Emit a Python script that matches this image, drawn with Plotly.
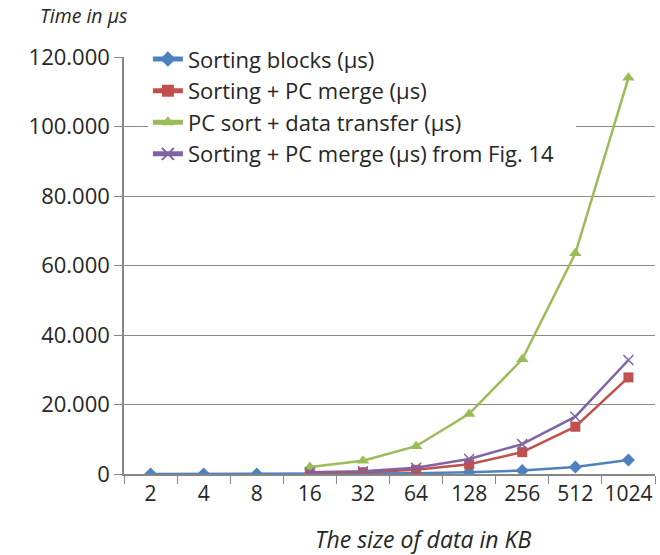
import plotly.graph_objects as go

# Data size in KB (category axis) and measured times in microseconds
sizes = ["2", "4", "8", "16", "32", "64", "128", "256", "512", "1024"]
sizes_pc = ["16", "32", "64", "128", "256", "512", "1024"]

sorting_blocks = [8, 16, 31, 62, 125, 250, 500, 1000, 2000, 4000]
sorting_pc_merge = [300, 500, 1200, 2800, 6300, 13600, 27800]
pc_sort_transfer = [2000, 3800, 8000, 17300, 33000, 63500, 114000]
sorting_pc_merge_fig14 = [500, 800, 1800, 4300, 8600, 16500, 32800]

FONT = "Open Sans"
TXT = "#262626"

fig = go.Figure()
fig.add_trace(go.Scatter(
    x=sizes, y=sorting_blocks, name="Sorting blocks (μs)", mode="lines+markers",
    line=dict(color="#4F81BD", width=2.5),
    marker=dict(symbol="diamond", size=10, color="#4F81BD"),
))
fig.add_trace(go.Scatter(
    x=sizes_pc, y=sorting_pc_merge, name="Sorting + PC merge (μs)", mode="lines+markers",
    line=dict(color="#C0504D", width=2.5),
    marker=dict(symbol="square", size=10, color="#C0504D"),
))
fig.add_trace(go.Scatter(
    x=sizes_pc, y=pc_sort_transfer, name="PC sort + data transfer (μs)", mode="lines+markers",
    line=dict(color="#9BBB59", width=2.5),
    marker=dict(symbol="triangle-up", size=11, color="#9BBB59"),
))
fig.add_trace(go.Scatter(
    x=sizes_pc, y=sorting_pc_merge_fig14,
    name="Sorting + PC merge (μs) from Fig. 14\u00a0\u00a0\u00a0",
    mode="lines+markers",
    line=dict(color="#8064A2", width=2.5),
    marker=dict(symbol="x-thin", size=10, color="#8064A2",
                line=dict(color="#8064A2", width=1.5)),
))

fig.update_layout(
    width=660, height=555,
    margin=dict(l=124, r=5, t=57, b=81),
    paper_bgcolor="white", plot_bgcolor="white",
    separators=",.",
    font=dict(family=FONT, size=22, color=TXT),
    showlegend=True,
    legend=dict(
        x=0.045, y=1.045, xanchor="left", yanchor="top",
        bgcolor="white", font=dict(family=FONT, size=22, color=TXT),
        itemsizing="constant", tracegroupgap=0,
    ),
    annotations=[
        dict(text="<i>Time in μs</i>", xref="paper", yref="paper",
             x=-0.162, y=1.062, xanchor="left", yanchor="bottom", showarrow=False,
             font=dict(family=FONT, size=19.5, color=TXT)),
        dict(text="<i>The size of data in KB</i>", xref="paper", yref="paper",
             x=0.563, y=-0.157, xanchor="center", yanchor="middle", showarrow=False,
             font=dict(family=FONT, size=23, color=TXT)),
    ],
)

fig.update_xaxes(
    type="category", categoryorder="array", categoryarray=sizes,
    range=[-0.5, 9.5], tickson="boundaries", tickangle=0,
    showline=True, linecolor="#868686", linewidth=1.5,
    ticks="outside", ticklen=8, tickcolor="#868686",
    showgrid=False, zeroline=False,
    tickfont=dict(family=FONT, size=21, color=TXT),
)
fig.update_yaxes(
    range=[0, 120000], tickvals=[0, 20000, 40000, 60000, 80000, 100000, 120000],
    tickformat=",d",
    showline=True, linecolor="#868686", linewidth=1.5,
    ticks="outside", ticklen=8, tickcolor="#868686",
    showgrid=True, gridcolor="#8a8a8a", gridwidth=1, zeroline=False,
    tickfont=dict(family=FONT, size=22, color=TXT),
)

fig.write_html("out.html")
